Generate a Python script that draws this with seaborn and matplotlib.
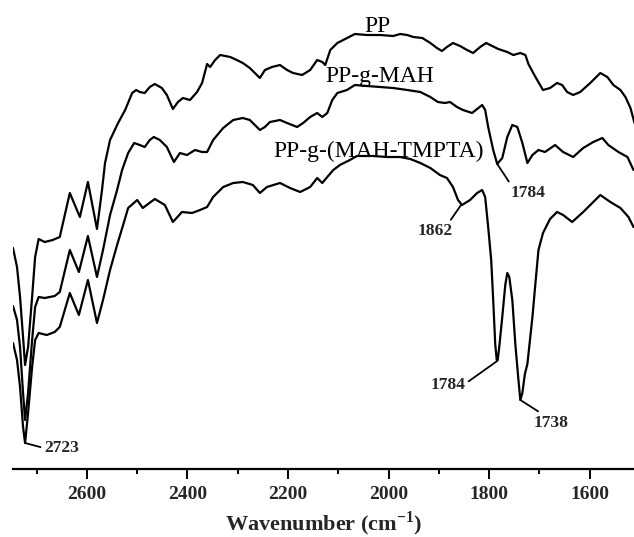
import matplotlib
matplotlib.use("Agg")
import matplotlib.pyplot as plt
from matplotlib.ticker import MultipleLocator
import seaborn as sns
import pandas as pd

# ---- data (wavenumber in cm-1, transmittance in a.u.) ----
pp_wn = [2747, 2739, 2733, 2727, 2723, 2717, 2709, 2703, 2696, 2684, 2668, 2654, 2634, 2614, 2598, 2580,
         2570, 2564, 2554, 2538, 2524, 2510, 2502, 2495, 2485, 2475, 2465, 2451, 2441, 2429, 2419, 2409,
         2395, 2381, 2371, 2361, 2355, 2345, 2335, 2315, 2302, 2290, 2276, 2256, 2246, 2232, 2216, 2202,
         2190, 2172, 2156, 2142, 2132, 2126, 2116, 2102, 2067, 2043, 2017, 1991, 1977, 1963, 1951, 1933,
         1917, 1904, 1894, 1884, 1872, 1858, 1844, 1832, 1818, 1806, 1794, 1782, 1764, 1752, 1738, 1728,
         1722, 1708, 1693, 1679, 1665, 1655, 1645, 1633, 1619, 1599, 1579, 1565, 1553, 1539, 1529, 1519, 1511]
pp_t = [22.1, 20.2, 17.2, 13.2, 10.4, 12.2, 17.2, 21.2, 23.0, 22.7, 22.9, 23.2, 27.6, 25.2, 28.7, 24.0,
        27.9, 30.6, 32.9, 34.6, 35.9, 37.6, 37.9, 37.7, 37.6, 38.2, 38.5, 38.1, 37.4, 36.0, 36.7, 37.1,
        36.9, 37.7, 38.6, 40.5, 40.2, 40.9, 41.4, 41.2, 40.9, 40.6, 40.1, 39.1, 39.9, 40.2, 40.4, 39.9,
        39.6, 39.4, 39.9, 40.9, 40.7, 40.4, 41.9, 42.6, 43.5, 43.4, 43.4, 43.3, 43.5, 43.4, 43.2, 43.1,
        42.6, 42.1, 41.8, 42.2, 42.6, 42.3, 41.9, 41.6, 42.2, 42.6, 42.3, 42.0, 41.7, 41.4, 41.6, 41.4,
        40.5, 39.2, 37.9, 38.1, 38.6, 38.4, 37.7, 37.4, 37.7, 38.6, 39.6, 39.2, 38.4, 37.9, 37.2, 36.1, 34.6]

mah_wn = [2747, 2739, 2733, 2727, 2723, 2717, 2709, 2703, 2696, 2684, 2664, 2654, 2634, 2616, 2598, 2580,
          2568, 2554, 2540, 2530, 2518, 2506, 2495, 2485, 2475, 2467, 2455, 2441, 2427, 2415, 2401, 2385,
          2371, 2361, 2349, 2329, 2309, 2290, 2276, 2256, 2246, 2236, 2216, 2202, 2182, 2170, 2156, 2142,
          2132, 2122, 2112, 2102, 2083, 2067, 2043, 2017, 1991, 1963, 1937, 1917, 1902, 1888, 1878, 1864,
          1852, 1834, 1824, 1814, 1808, 1802, 1792, 1784, 1774, 1764, 1754, 1744, 1734, 1724, 1714, 1702,
          1689, 1669, 1653, 1633, 1613, 1593, 1575, 1563, 1543, 1525, 1513]
mah_t = [16.3, 14.9, 12.2, 7.6, 4.9, 7.6, 12.9, 16.2, 17.2, 17.1, 17.3, 17.7, 21.9, 19.7, 23.3, 19.2,
         21.9, 25.4, 27.9, 29.9, 31.6, 32.6, 32.4, 32.2, 32.9, 33.2, 32.9, 32.2, 30.7, 31.6, 31.4, 31.9,
         31.7, 31.7, 32.9, 34.1, 34.9, 35.1, 34.9, 33.9, 34.2, 34.7, 34.9, 34.6, 34.2, 34.6, 35.2, 35.6,
         35.2, 35.6, 36.9, 37.6, 37.9, 38.4, 38.3, 38.2, 38.1, 37.9, 37.7, 37.2, 36.7, 36.6, 36.7, 36.2,
         35.9, 35.6, 36.0, 36.4, 35.9, 34.2, 31.9, 30.5, 31.1, 33.2, 34.4, 34.2, 32.6, 30.6, 31.4, 31.9,
         31.7, 32.4, 31.7, 31.2, 32.1, 32.7, 33.1, 32.4, 31.7, 31.2, 29.9]

tmp_wn = [2747, 2739, 2733, 2727, 2723, 2717, 2709, 2703, 2696, 2680, 2664, 2654, 2634, 2616, 2598, 2580,
          2568, 2554, 2540, 2528, 2518, 2500, 2489, 2465, 2445, 2429, 2411, 2391, 2375, 2361, 2349, 2329,
          2309, 2290, 2270, 2256, 2242, 2216, 2196, 2176, 2156, 2142, 2132, 2122, 2110, 2097, 2077, 2063,
          2031, 2003, 1977, 1957, 1937, 1917, 1898, 1884, 1872, 1862, 1854, 1838, 1824, 1814, 1808, 1802,
          1796, 1792, 1788, 1785, 1783, 1780, 1774, 1768, 1764, 1760, 1754, 1748, 1742, 1738, 1734, 1729,
          1724, 1714, 1708, 1702, 1693, 1679, 1665, 1653, 1635, 1613, 1579, 1559, 1539, 1523, 1513]
tmp_t = [12.6, 10.9, 8.2, 4.2, 2.6, 5.6, 10.2, 12.9, 13.6, 13.4, 13.7, 14.2, 17.6, 15.4, 18.9, 14.6,
         16.9, 19.9, 22.4, 24.4, 26.1, 26.9, 26.1, 27.0, 26.4, 24.7, 25.7, 25.6, 25.9, 26.2, 27.2, 28.2,
         28.6, 28.7, 28.4, 27.6, 28.2, 28.6, 28.1, 27.7, 28.2, 29.1, 28.6, 29.2, 29.9, 30.4, 30.9, 31.3,
         31.3, 31.2, 31.2, 31.0, 30.6, 30.1, 29.4, 29.1, 28.2, 26.9, 26.4, 26.9, 27.6, 27.9, 27.2, 24.2,
         20.9, 16.9, 12.5, 10.9, 10.9, 12.2, 15.2, 18.4, 19.6, 19.2, 16.9, 12.5, 9.0, 6.9, 7.6, 9.5,
         10.5, 15.2, 18.6, 21.9, 23.6, 25.0, 25.7, 25.4, 24.7, 25.7, 27.4, 26.7, 26.1, 25.2, 24.2]

series_names = ["PP", "PP-g-MAH", "PP-g-(MAH-TMPTA)"]
xticks_major = [2600, 2400, 2200, 2000, 1800, 1600]

# series labels: (text, wavenumber, transmittance at baseline)
series_label_pos = [("PP", 2023, 43.7), ("PP-g-MAH", 2017, 38.7), ("PP-g-(MAH-TMPTA)", 2019, 31.2)]
# peak annotations: (text, wavenumber, transmittance of point)
peak_labels = [("2723", 2723, 2.6), ("1862", 1856, 26.4), ("1784", 1784, 30.5),
               ("1784", 1784, 10.8), ("1738", 1738, 6.9)]

frames = []
for name, wn, t in [(series_names[0], pp_wn, pp_t), (series_names[1], mah_wn, mah_t),
                    (series_names[2], tmp_wn, tmp_t)]:
    frames.append(pd.DataFrame({"wn": wn, "T": t, "sample": name}))
df = pd.concat(frames, ignore_index=True)

sns.set_theme(style="white")
plt.rcParams["font.family"] = ["Liberation Serif", "DejaVu Serif"]
plt.rcParams["mathtext.fontset"] = "custom"
plt.rcParams["mathtext.rm"] = "Liberation Serif"
plt.rcParams["mathtext.bf"] = "Liberation Serif:bold"

fig = plt.figure(figsize=(6.34, 5.37), dpi=100)
ax = fig.add_axes([13 / 634, 68 / 537, 1 - 13 / 634, 1 - 68 / 537])

sns.lineplot(data=df, x="wn", y="T", hue="sample", palette=["black"] * 3, estimator=None,
             sort=False, legend=False, linewidth=1.6, ax=ax)

ax.set_xlim(2747, 1512)
ax.set_ylim(0, 46.9)
for s in ["left", "right", "top"]:
    ax.spines[s].set_visible(False)
ax.spines["bottom"].set_linewidth(1.6)
ax.spines["bottom"].set_color("black")
ax.set_yticks([])
ax.set_ylabel("")
ax.set_xticks(xticks_major)
ax.xaxis.set_minor_locator(MultipleLocator(100))
ax.tick_params(axis="x", which="major", direction="out", length=7, width=1.4, color="black",
               pad=5, labelsize=14, bottom=True)
ax.tick_params(axis="x", which="minor", direction="out", length=3.5, width=1.4, color="black",
               bottom=True)
for lab in ax.get_xticklabels():
    lab.set_fontweight("bold")
ax.set_xlabel(r"Wavenumber (cm$^{\mathbf{-1}}$)", fontsize=16, fontweight="bold", labelpad=5)

for text, wn, t in series_label_pos:
    ax.text(wn, t, text, fontsize=17, ha="center", va="baseline", color="black")

# annotation layout (offsets in points, alignment, leader attachment point)
ann_style = [((13.5, -3.6), "left", "center", (0.0, 0.5)),
             ((-6, -13), "right", "top", (0.85, 0.9)),
             ((9.4, -15), "left", "top", (0.05, 0.9)),
             ((-23, -17.5), "right", "center", (1.0, 0.6)),
             ((9.4, -10.5), "left", "top", (0.35, 0.9))]
for (text, wn, t), (off, ha, va, rel) in zip(peak_labels, ann_style):
    ax.annotate(text, xy=(wn, t), xytext=off, textcoords="offset points", ha=ha, va=va,
                fontsize=12.5, fontweight="bold",
                arrowprops=dict(arrowstyle="-", lw=1.3, color="black", shrinkA=0, shrinkB=0,
                                relpos=rel))

fig.savefig("out.png", dpi=100)
